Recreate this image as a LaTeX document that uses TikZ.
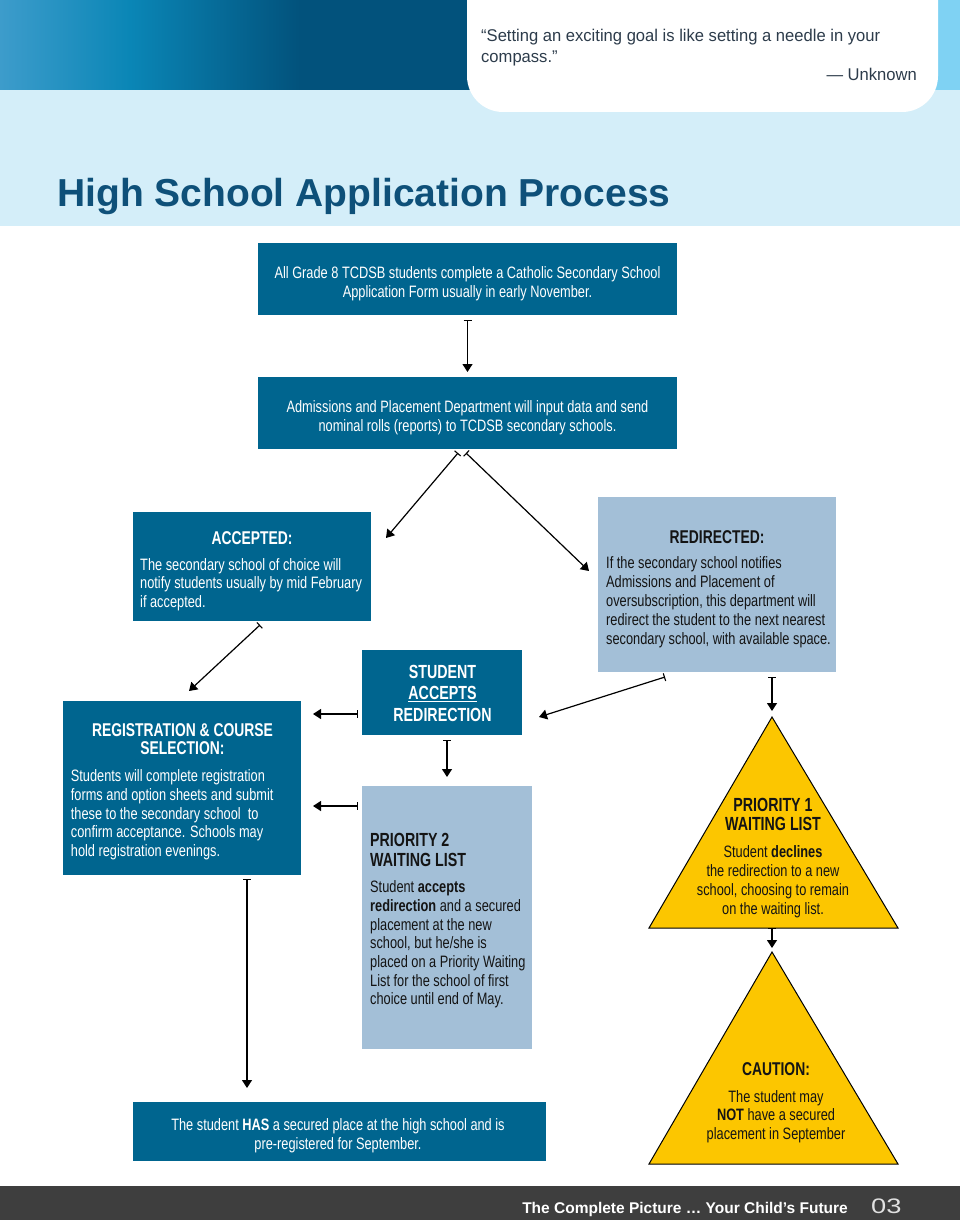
\documentclass[tikz,border=0pt]{standalone}
\usepackage{fontspec}
\setmainfont{Liberation Sans}
\newfontfamily\cf[FakeStretch=0.775]{Liberation Sans}
\newfontfamily\tf[FakeStretch=0.75]{Liberation Sans}
\newfontfamily\wf[FakeStretch=1.3]{Liberation Sans}
\usetikzlibrary{arrows.meta,calc}
\definecolor{boxblue}{RGB}{0,101,143}
\definecolor{boxgray}{RGB}{163,191,215}
\definecolor{tyellow}{RGB}{252,198,0}
\definecolor{titleblue}{RGB}{14,80,121}
\definecolor{band}{RGB}{212,238,249}
\definecolor{hdA}{RGB}{61,156,203}
\definecolor{hdM}{RGB}{10,134,182}
\definecolor{hdB}{RGB}{2,82,124}
\definecolor{hdR}{RGB}{127,210,243}
\definecolor{quote}{RGB}{45,60,75}
\definecolor{foot}{RGB}{62,62,62}
\definecolor{ink}{RGB}{20,20,20}
\begin{document}
\begin{tikzpicture}[x=1pt,y=-1pt,
  dbox/.style={fill=boxblue,inner sep=0pt,outer sep=0pt},
  lbox/.style={fill=boxgray,inner sep=0pt,outer sep=0pt},
  body/.style={inner sep=0pt,font=\cf\fontsize{16.5}{19}\selectfont},
  ttl/.style={inner sep=0pt,font=\tf\bfseries\fontsize{18.5}{21}\selectfont},
  tri/.style={fill=tyellow,draw=black,line width=1pt,line join=miter},
  conn/.style={line width=1.2pt,{Bar[width=8pt,line width=1.1pt]}-{Triangle[length=8pt,width=10pt]}}]
\useasboundingbox (0,0) rectangle (960,1220);
% header
\fill[left color=hdA,right color=hdM] (0,0) rectangle (130,90);
\fill[left color=hdM,right color=hdB] (130,0) rectangle (300,90);
\fill[hdB] (299,0) rectangle (700,90);
\fill[hdR] (700,0) rectangle (960,90);
\fill[band] (0,90) rectangle (960,226);
\fill[white,rounded corners=36pt] (467,-60) rectangle (938,112);
\node[inner sep=0pt,anchor=north west,align=left,text=quote,
  font=\fontsize{17}{21}\selectfont\addfontfeature{FakeStretch=0.975}] (quote) at (481,28.6)
  {“Setting an exciting goal is like setting a needle in your\\compass.”};
\node[inner sep=0pt,anchor=base east,text=quote,
  font=\fontsize{17}{21}\selectfont\addfontfeature{FakeStretch=0.975}] (author) at (917,81) {— Unknown};
\node[inner sep=0pt,anchor=base west,text=titleblue,font=\bfseries\fontsize{39}{44}\selectfont] (title) at (57,206) {High School Application Process};
% boxes
\node[dbox,minimum width=419pt,minimum height=72pt] (box1) at (467.5,279) {};
\node[body,text=white,align=center,anchor=north] (t1) at (467.5,266)
  {All Grade 8 TCDSB students complete a Catholic Secondary School\\Application Form usually in early November.};
\node[dbox,minimum width=419pt,minimum height=72pt] (box2) at (467.5,413) {};
\node[body,text=white,align=center,anchor=north] (t2) at (467.5,400)
  {Admissions and Placement Department will input data and send\\nominal rolls (reports) to TCDSB secondary schools.};
\node[dbox,minimum width=238pt,minimum height=109pt] (acc) at (252,566.5) {};
\node[ttl,text=white,anchor=base] (acct) at (252,544) {ACCEPTED:};
\node[body,text=white,align=left,anchor=north west,font=\cf\fontsize{16.5}{18.75}\selectfont] (accb) at (140,558)
  {The secondary school of choice will\\notify students usually by mid February\\if accepted.};
\node[lbox,minimum width=238pt,minimum height=175pt] (redir) at (717,584.5) {};
\node[ttl,text=ink,anchor=base] (redirt) at (717,543) {REDIRECTED:};
\node[body,text=ink,align=left,anchor=north west] (redirb) at (606,556.5)
  {If the secondary school notifies\\Admissions and Placement of\\oversubscription, this department will\\redirect the student to the next nearest\\secondary school, with available space.};
\node[dbox,minimum width=160pt,minimum height=85pt] (sa) at (442,692.5) {};
\node[ttl,text=white,align=center,anchor=north,font=\tf\bfseries\fontsize{19}{21.5}\selectfont] (sat) at (442.5,665)
  {STUDENT\\\underline{ACCEPTS}\\REDIRECTION};
\node[dbox,minimum width=238pt,minimum height=174pt] (reg) at (182,788) {};
\node[ttl,text=white,align=center,anchor=north,font=\tf\bfseries\fontsize{18.5}{18.5}\selectfont] (regt) at (182.5,723)
  {REGISTRATION \& COURSE\\SELECTION:};
\node[body,text=white,align=left,anchor=north west,font=\cf\fontsize{16.5}{18.75}\selectfont] (regb) at (70.7,769.5)
  {Students will complete registration\\forms and option sheets and submit\\these to the secondary school\ \ to\\confirm acceptance. Schools may\\hold registration evenings.};
\node[lbox,minimum width=170pt,minimum height=263pt] (p2) at (447,917.5) {};
\node[ttl,text=ink,align=left,anchor=north west,font=\tf\bfseries\fontsize{19}{20.5}\selectfont] (p2t) at (370,833)
  {PRIORITY 2\\WAITING LIST};
\node[body,text=ink,align=left,anchor=north west,font=\cf\fontsize{16.5}{18.7}\selectfont] (p2b) at (370,880.5)
  {Student \textbf{accepts}\\\textbf{redirection} and a secured\\placement at the new\\school, but he/she is\\placed on a Priority Waiting\\List for the school of first\\choice until end of May.};
% triangles
\draw[tri] (772,717) -- (898,928) -- (649,928) -- cycle;
\coordinate (p1top) at (772,717);
\coordinate (p1bot) at (772,928);
\node[ttl,text=ink,align=center,anchor=north,font=\tf\bfseries\fontsize{19}{19}\selectfont] (p1t) at (773,798)
  {PRIORITY 1\\WAITING LIST};
\node[body,text=ink,align=center,anchor=north] (p1b) at (773,845.5)
  {Student \textbf{declines}\\the redirection to a new\\school, choosing to remain\\on the waiting list.};
\draw[tri] (772,952) -- (898,1164) -- (649,1164) -- cycle;
\coordinate (ctop) at (772,952);
\node[ttl,text=ink,anchor=base] (ct) at (776,1075) {CAUTION:};
\node[body,text=ink,align=center,anchor=north,font=\cf\fontsize{16.5}{18.7}\selectfont] (cb) at (776,1090)
  {The student may\\\textbf{NOT} have a secured\\placement in September};
\node[dbox,minimum width=413pt,minimum height=59pt] (bot) at (339.5,1131.5) {};
\node[body,text=white,align=center,anchor=north] (bott) at (338,1118)
  {The student \textbf{HAS} a secured place at the high school and is\\pre-registered for September.};
% connectors
\draw[conn] ($(box1.south)+(0,5)$) -- ($(box2.north)+(0,-5)$);
\draw[conn] ($(box2.south)+(-9.5,4)$) -- ($(acc.north east)+(15,26)$);
\draw[conn] ($(box2.south)+(-1.5,4)$) -- ($(redir.west)+(-9,-13.5)$);
\draw[conn] ($(acc.south)+(8,4)$) -- ($(reg.north)+(7,-10)$);
\draw[conn] ($(redir.south)+(-52,5)$) -- ($(sa.east)+(17,24.5)$);
\draw[conn] ($(redir.south -| p1top)+(0,5)$) -- ($(p1top)+(0,-6)$);
\draw[conn] ($(sa.west)+(-4,21.5)$) -- ($(reg.east)+(12,-74)$);
\draw[conn] ($(sa.south -| p2.north)+(0,5)$) -- ($(p2.north)+(0,-9)$);
\draw[conn] ($(p2.north west)+(-4,20)$) -- ($(reg.east)+(12,18)$);
\draw[conn] ($(reg.south)+(65,4)$) -- ($(bot.north west)+(114,-14)$);
\draw[conn] (p1bot) -- ($(ctop)+(0,-4)$);
% footer
\fill[foot] (0,1186) rectangle (960,1220);
\node[inner sep=0pt,anchor=base east,text=white,font=\bfseries\fontsize{15.5}{18}\selectfont] (foottext) at (848,1213)
  {The Complete Picture … Your Child’s Future};
\node[inner sep=0pt,anchor=base west,text=white!88!black,font=\wf\fontsize{21}{24}\selectfont] (pagenum) at (871,1213) {03};
\end{tikzpicture}
\end{document}
